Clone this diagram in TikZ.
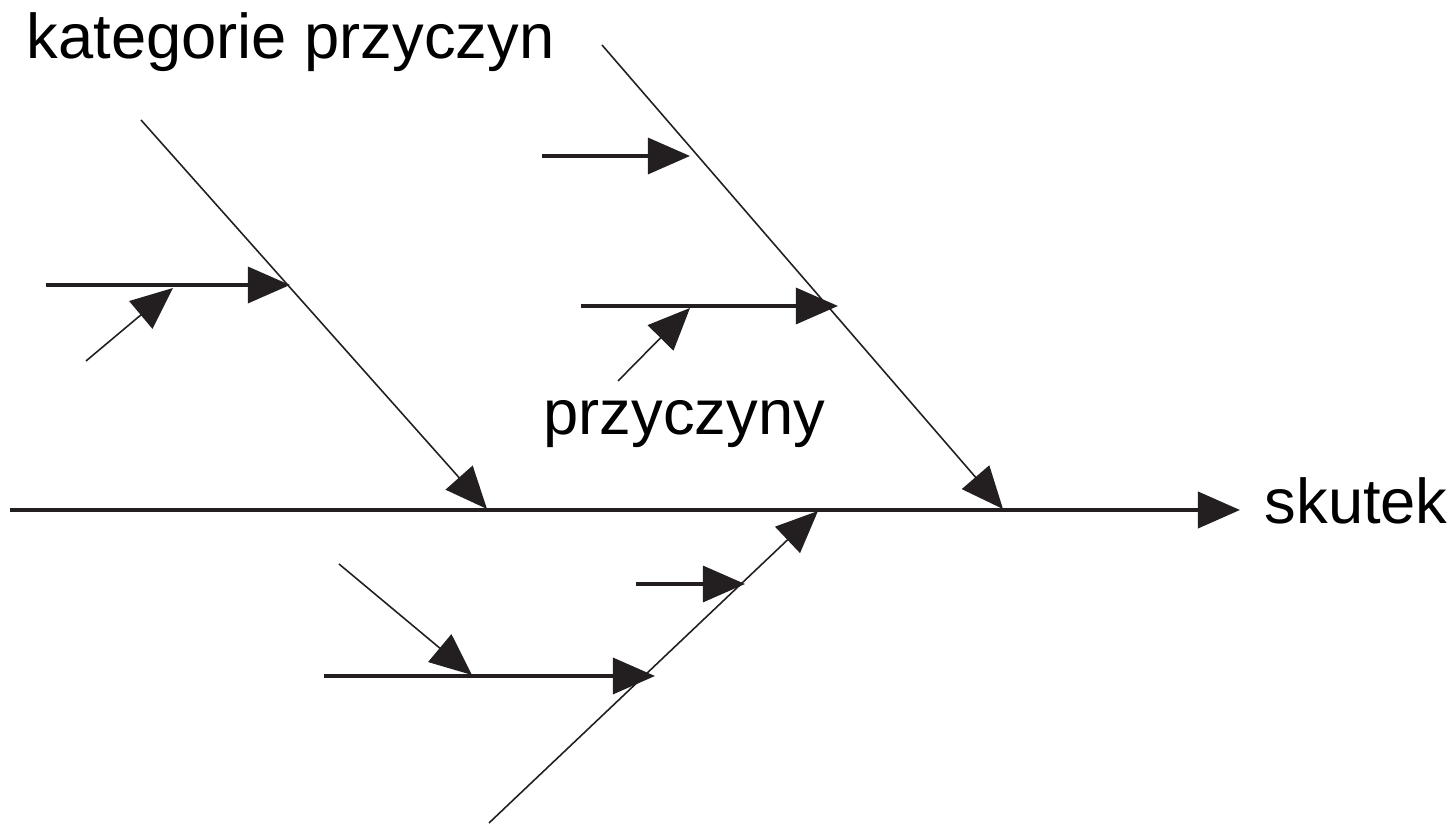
\documentclass[tikz,border=0pt]{standalone}
\usepackage{fontspec}
\setmainfont{Liberation Sans}
\usepackage{tikz}
\usetikzlibrary{arrows.meta}
\definecolor{ink}{RGB}{35,31,32}

\begin{document}
\begin{tikzpicture}[
    x = 0.01cm, y = -0.01cm,
    every node/.style = {font=\fontsize{18}{22}\selectfont, inner sep=0pt, text=black},
    head/.style  = {-{Triangle[length=0.42cm, width=0.36cm]}, ink},
    spine/.style = {head, line width=1.1pt},
    bone/.style  = {head, line width=0.45pt},
    cause/.style = {head, line width=0.9pt},
    sub/.style   = {head, line width=0.45pt},
]
\useasboundingbox (0,0) rectangle (1453,825);

% effect axis
\coordinate (S0) at (10,510);
\node[anchor=base west] (effect) at (1264,524) {skutek};
\coordinate (S1) at (1240,510);

% category bones
\coordinate (A0) at (141,120);  \coordinate (A1) at (487,509);
\coordinate (B0) at (602,45);   \coordinate (B1) at (1003,509);
\coordinate (C0) at (489,823);  \coordinate (C1) at (818,511);

% causes
\coordinate (a0) at (46,285);   \coordinate (a1) at (290,285);
\coordinate (a2) at (86,361);   \coordinate (a3) at (173,288);
\coordinate (b0) at (542,156);  \coordinate (b1) at (690,156);
\coordinate (b2) at (581,306);  \coordinate (b3) at (838,306);
\coordinate (b4) at (618,381);  \coordinate (b5) at (690,308);
\coordinate (c0) at (636,584);  \coordinate (c1) at (745,584);
\coordinate (c2) at (324,676);  \coordinate (c3) at (655,676);
\coordinate (c4) at (339,564);  \coordinate (c5) at (472,675);

% labels
\node[anchor=base west] (cat) at (26,59) {kategorie przyczyn};
\node[anchor=base west] (cau) at (543,435) {przyczyny};

% Arrows
\draw[spine] (S0) -- (S1);
\draw[bone]  (A0) -- (A1);
\draw[bone]  (B0) -- (B1);
\draw[bone]  (C0) -- (C1);
\draw[cause] (a0) -- (a1);
\draw[sub]   (a2) -- (a3);
\draw[cause] (b0) -- (b1);
\draw[cause] (b2) -- (b3);
\draw[sub]   (b4) -- (b5);
\draw[cause] (c0) -- (c1);
\draw[cause] (c2) -- (c3);
\draw[sub]   (c4) -- (c5);
\end{tikzpicture}
\end{document}
